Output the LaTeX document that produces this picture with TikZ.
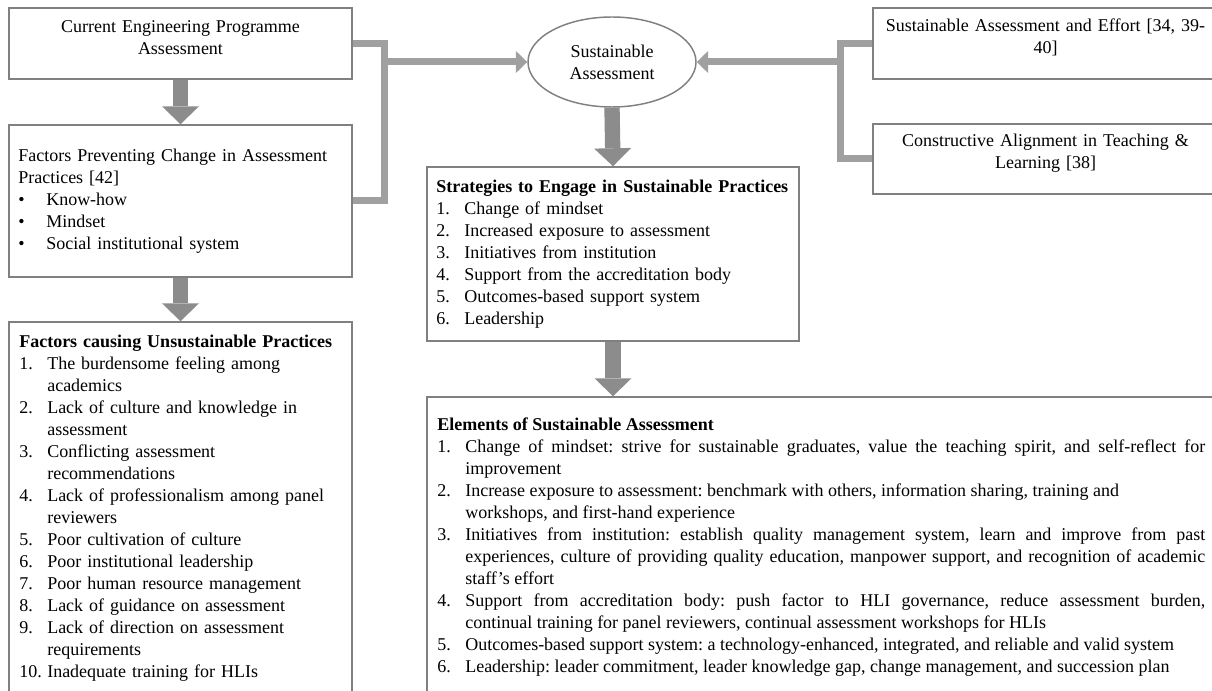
\documentclass[tikz,border=0pt]{standalone}
\usepackage{fontspec}
\setmainfont{Liberation Serif}
\usetikzlibrary{positioning, calc, fit, shapes.geometric, arrows.meta}
\definecolor{boxgray}{RGB}{128,128,128}
\definecolor{arrowgray}{RGB}{140,140,140}
\definecolor{linkgray}{RGB}{160,160,160}
\newcommand{\litem}[2]{\par\hangindent=21pt\hangafter=1\noindent\makebox[21pt][l]{#1}#2}

\begin{document}
\frenchspacing
\begin{tikzpicture}[x=0.75pt,y=0.75pt,yscale=-1,xscale=1,
  every node/.style={font=\fontsize{13.5}{16.5}\selectfont},
  box/.style={draw=boxgray, line width=1.1pt, inner sep=0pt},
  listtext/.style={anchor=north west, inner sep=0pt, align=left},
  blockarrow/.style={draw=arrowgray, line width=11.5pt, -{Triangle[width=27.75pt,length=13.5pt,line width=0pt]}},
  link/.style={draw=linkgray, line width=5.25pt},
  linkarrow/.style={link, -{Triangle[width=16.5pt,length=8.5pt,line width=0pt]}}
]
\useasboundingbox (0,0) rectangle (1212,691);
\clip (0,0) rectangle (1212,691);

%Shape: Rectangle
\node [box, fit={(9,8) (352,79)}, align=center] (prog) {Current Engineering Programme\\Assessment};
%Shape: Rectangle
\node [box, fit={(9,125) (352,277)}] (prevent) {};
%Shape: Rectangle
\node [box, fit={(9,322) (352,720)}] (unsust) {};
%Shape: Ellipse
\node [draw=boxgray, line width=1.1pt, ellipse, inner sep=0pt, minimum width=126pt, minimum height=67.5pt, align=center] (sust) at (612,62) {Sustainable\\Assessment};
%Shape: Rectangle
\node [box, fit={(427,167) (799,341)}] (strat) {};
%Shape: Rectangle
\node [box, fit={(427,397) (1225,720)}] (elem) {};
%Shape: Rectangle
\node [box, fit={(873,8) (1218,79)}, align=center] (effort) {Sustainable Assessment and Effort [34, 39-\\40]};
%Shape: Rectangle
\node [box, fit={(873,124) (1218,194)}, align=center] (align) {Constructive Alignment in Teaching \&\\Learning [38]};

% Text Node
\node [listtext, text width=247.5pt] (preventtext) at (18,149) {\noindent Factors Preventing Change in Assessment\newline Practices [42]
\litem{•}{Know-how}
\litem{•}{Mindset}
\litem{•}{Social institutional system}};
% Text Node
\node [listtext, text width=250pt] (unsusttext) at (19,335) {\noindent\textbf{Factors causing Unsustainable Practices}
\litem{1.}{The burdensome feeling among\newline academics}
\litem{2.}{Lack of culture and knowledge in\newline assessment}
\litem{3.}{Conflicting assessment\newline recommendations}
\litem{4.}{Lack of professionalism among panel\newline reviewers}
\litem{5.}{Poor cultivation of culture}
\litem{6.}{Poor institutional leadership}
\litem{7.}{Poor human resource management}
\litem{8.}{Lack of guidance on assessment}
\litem{9.}{Lack of direction on assessment\newline requirements}
\litem{10.}{Inadequate training for HLIs}};
% Text Node
\node [listtext, text width=270pt] (strattext) at (436,180) {\noindent\textbf{Strategies to Engage in Sustainable Practices}
\litem{1.}{Change of mindset}
\litem{2.}{Increased exposure to assessment}
\litem{3.}{Initiatives from institution}
\litem{4.}{Support from the accreditation body}
\litem{5.}{Outcomes-based support system}
\litem{6.}{Leadership}};
% Text Node
\node [listtext, align=justify, text width=576pt] (elemtext) at (437,418) {\tolerance=9999\emergencystretch=2em\noindent\textbf{Elements of Sustainable Assessment}
\litem{1.}{Change of mindset: strive for sustainable graduates, value the teaching spirit, and self-reflect for\linebreak improvement}
\litem{2.}{Increase exposure to assessment: benchmark with others, information sharing, training and\newline workshops, and first-hand experience}
\litem{3.}{Initiatives from institution: establish quality management system, learn and improve from past\linebreak experiences, culture of providing quality education, manpower support, and recognition of academic\linebreak staff's effort}
\litem{4.}{Support from accreditation body: push factor to HLI governance, reduce assessment burden,\linebreak continual training for panel reviewers, continual assessment workshops for HLIs}
\litem{5.}{Outcomes-based support system: a technology-enhanced, integrated, and reliable and valid system}
\litem{6.}{Leadership: leader commitment, leader knowledge gap, change management, and succession plan}};

%Block Arrows
\draw [blockarrow] (prog.south) -- (prevent.north);
\draw [blockarrow] (prevent.south) -- (unsust.north);
\draw [blockarrow] (sust.south) -- (strat.north);
\draw [blockarrow] (strat.south) -- (strat.south |- elem.north);

%Straight Lines
\coordinate (joinl) at (384,62);
\coordinate (joinr) at (840,62);
\draw [link] (prog.east) -- (prog.east -| joinl) -- (prevent.east -| joinl) -- (prevent.east);
\draw [linkarrow] (joinl) -- (sust.west);
\draw [link] (effort.west) -- (effort.west -| joinr) -- (align.west -| joinr) -- (align.west);
\draw [linkarrow] (joinr) -- (sust.east);
\end{tikzpicture}
\end{document}
